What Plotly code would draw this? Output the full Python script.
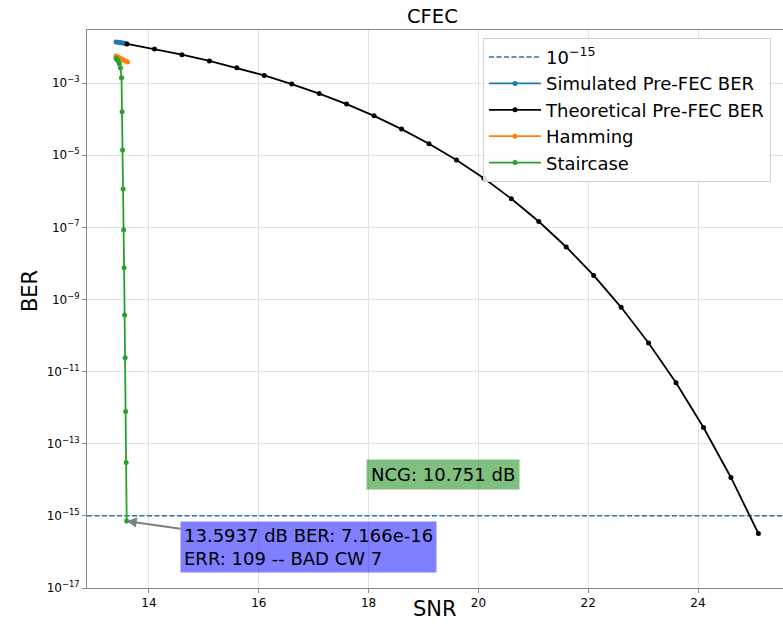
import plotly.graph_objects as go

# ---------------- data ----------------
theo_snr = [13.6, 14.1, 14.6, 15.1, 15.6, 16.1, 16.6, 17.1, 17.6, 18.1, 18.6, 19.1,
            19.6, 20.1, 20.6, 21.1, 21.6, 22.1, 22.6, 23.1, 23.6, 24.1, 24.6, 25.1]
theo_ber = [1.21e-2, 8.77e-3, 6.12e-3, 4.11e-3, 2.64e-3, 1.62e-3, 9.38e-4, 5.10e-4,
            2.60e-4, 1.23e-4, 5.28e-5, 2.08e-5, 7.30e-6, 2.28e-6, 6.19e-7, 1.45e-7,
            2.85e-8, 4.62e-9, 6.05e-10, 6.21e-11, 4.87e-12, 2.81e-13, 1.16e-14, 3.24e-16]

sim_snr = [13.40, 13.43, 13.46, 13.49, 13.52, 13.55, 13.58]
sim_ber = [1.37e-2, 1.35e-2, 1.32e-2, 1.30e-2, 1.28e-2, 1.26e-2, 1.24e-2]

ham_snr = [13.40, 13.43, 13.46, 13.49, 13.52, 13.55, 13.58, 13.61]
ham_ber = [5.6e-3, 5.3e-3, 5.0e-3, 4.7e-3, 4.4e-3, 4.2e-3, 4.0e-3, 3.8e-3]

stair_snr = [13.40, 13.42, 13.44, 13.46, 13.48, 13.500, 13.510, 13.519, 13.528,
             13.538, 13.547, 13.556, 13.566, 13.575, 13.584, 13.5937]
stair_ber = [4.8e-3, 4.4e-3, 4.0e-3, 3.4e-3, 2.6e-3, 1.4e-3, 1.6e-4, 1.4e-5, 1.15e-6,
             8.5e-8, 7.6e-9, 3.7e-10, 2.4e-11, 7.8e-13, 3.0e-14, 7.166e-16]

threshold = 1e-15
x_range = [12.871, 25.548]
y_range_log = [-17.0, -1.53]
y_tick_exp = [-17, -15, -13, -11, -9, -7, -5, -3]
x_ticks = [14, 16, 18, 20, 22, 24]

title_text = "CFEC"
x_title, y_title = "SNR", "BER"
ncg_text = "NCG: 10.751 dB"
ncg_pos = (19.36, -13.84)
pt_text = "13.5937 dB BER: 7.166e-16<br>ERR: 109 -- BAD CW 7"
pt_x, pt_y = 13.5937, 7.166e-16

FONT = "DejaVu Sans, Liberation Sans, sans-serif"
BLUE, ORANGE, GREEN = "#1f77b4", "#ff7f0e", "#2ca02c"

fig = go.Figure()
fig.add_trace(go.Scatter(x=x_range, y=[threshold, threshold], mode="lines",
                         line=dict(color=BLUE, dash="5px,2.5px", width=1.5),
                         name="10<sup>\u221215</sup>"))
fig.add_trace(go.Scatter(x=sim_snr, y=sim_ber, mode="lines+markers",
                         line=dict(color=BLUE, width=1.8), marker=dict(size=5, color=BLUE),
                         name="Simulated Pre-FEC BER"))
fig.add_trace(go.Scatter(x=theo_snr, y=theo_ber, mode="lines+markers",
                         line=dict(color="black", width=1.8), marker=dict(size=5, color="black"),
                         name="Theoretical Pre-FEC BER"))
fig.add_trace(go.Scatter(x=ham_snr, y=ham_ber, mode="lines+markers",
                         line=dict(color=ORANGE, width=1.8), marker=dict(size=5, color=ORANGE),
                         name="Hamming"))
fig.add_trace(go.Scatter(x=stair_snr, y=stair_ber, mode="lines+markers",
                         line=dict(color=GREEN, width=1.8), marker=dict(size=5, color=GREEN),
                         name="Staircase"))

fig.add_annotation(x=ncg_pos[0], y=ncg_pos[1], xref="x", yref="y", text=ncg_text,
                   showarrow=False, bgcolor="rgba(0,128,0,0.5)", borderpad=4,
                   font=dict(family=FONT, size=18, color="black"))
fig.add_annotation(x=pt_x, y=-15.1447, xref="x", yref="y", text=pt_text, align="left",
                   showarrow=True, ax=182, ay=26, arrowcolor="gray", arrowwidth=2,
                   arrowhead=2, arrowsize=1, bgcolor="rgba(0,0,255,0.5)", borderpad=3,
                   font=dict(family=FONT, size=18, color="black"))
# titles placed as text
fig.add_annotation(x=0.5, y=-0.038, xref="paper", yref="paper", text=x_title,
                   showarrow=False, yanchor="middle", xanchor="center",
                   font=dict(family=FONT, size=21, color="black"))
fig.add_annotation(x=-0.082, y=0.532, xref="paper", yref="paper", text=y_title,
                   showarrow=False, yanchor="middle", xanchor="center", textangle=-90,
                   font=dict(family=FONT, size=21, color="black"))
fig.add_annotation(x=0.497, y=1.025, xref="paper", yref="paper", text=title_text,
                   showarrow=False, yanchor="middle", xanchor="center",
                   font=dict(family=FONT, size=19.5, color="black"))

fig.update_layout(
    width=783, height=627,
    margin=dict(l=87, r=0, t=30, b=39, autoexpand=False),
    paper_bgcolor="white", plot_bgcolor="white",
    font=dict(family=FONT, color="black"),
    showlegend=True,
    legend=dict(x=0.569, y=0.986, xanchor="left", yanchor="top",
                bgcolor="rgba(255,255,255,0.85)", bordercolor="#d0d0d0", borderwidth=1,
                font=dict(size=18, family=FONT), tracegroupgap=0, itemwidth=52),
)
fig.update_xaxes(range=x_range, tickvals=x_ticks, showgrid=True, gridcolor="#e2e2e2",
                 showline=True, linecolor="#888", mirror=True, ticks="outside", ticklen=4,
                 tickcolor="#888", tickfont=dict(size=12), zeroline=False, automargin=False)
fig.update_yaxes(type="log", range=y_range_log, tickvals=[10.0 ** e for e in y_tick_exp],
                 ticktext=["10<sup>\u2212%d</sup>" % (-e) for e in y_tick_exp],
                 showgrid=True, gridcolor="#e2e2e2", showline=True, linecolor="#888",
                 mirror=True, ticks="outside", ticklen=4, tickcolor="#888",
                 tickfont=dict(size=12), zeroline=False, automargin=False)

fig.write_html("out.html", config={"displayModeBar": False},
               post_script="document.body.style.margin='0px';")
